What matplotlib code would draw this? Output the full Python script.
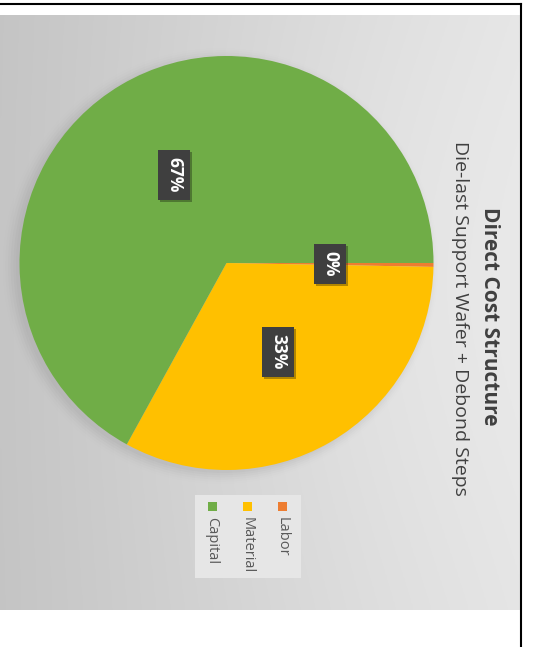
import numpy as np
import matplotlib
matplotlib.use("Agg")
import matplotlib.pyplot as plt
import matplotlib.patheffects as pe
from matplotlib.patches import Rectangle

plt.rcParams['font.family'] = ['Open Sans', 'DejaVu Sans']

categories = ["Labor", "Material", "Capital"]
values = [0.3, 32.7, 67.0]
labels = ["0%", "33%", "67%"]
colors = ["#ED7D31", "#FFC000", "#70AD47"]
title = "Direct Cost Structure"
subtitle = "Die-last Support Wafer + Debond Steps"

W, H = 535, 647
fig = plt.figure(figsize=(W / 100, H / 100), dpi=100)
fig.patch.set_facecolor("white")

# background axes in pixel coordinates
bg = fig.add_axes([0, 0, 1, 1])
bg.set_xlim(0, W)
bg.set_ylim(H, 0)
bg.axis("off")
xx = np.linspace(0, 1, 200)
yy = np.linspace(0, 1, 200)
X, Y = np.meshgrid(xx, yy)
base = 0.77 + 0.12 * X
rad = np.exp(-(((X - 0.75) / 0.5) ** 2 + ((Y - 0.45) / 0.6) ** 2))
grad = np.clip(base + 0.03 * rad, 0, 1)
bg.imshow(np.dstack([grad, grad, grad]), extent=[0, 520, 610, 15], aspect="auto", zorder=0)
bg.plot([0, 521], [3.5, 3.5], color="black", lw=1.5, zorder=2)
bg.plot([521, 521], [3.5, H], color="black", lw=1.5, zorder=2)

# pie shadow
for i, a in enumerate(np.linspace(0.02, 0.005, 6)):
    c = plt.Circle((223 - i * 0.5, 266), 207 + i * 2.2, color="black", alpha=a, zorder=1, lw=0)
    bg.add_patch(c)

cx, cy, r = 226.5, 263, 207
ax = fig.add_axes([(cx - r) / W, 1 - (cy + r) / H, 2 * r / W, 2 * r / H])
ax.pie(values, colors=colors, startangle=0, counterclock=False, radius=1,
       wedgeprops=dict(linewidth=0))
ax.set_xlim(-1, 1)
ax.set_ylim(-1, 1)
ax.set_aspect("auto")
ax.axis("off")

# overlay axes for labels, titles and legend
ov = fig.add_axes([0, 0, 1, 1])
ov.set_xlim(0, W)
ov.set_ylim(H, 0)
ov.axis("off")
ov.patch.set_alpha(0)

label_pos = [(330, 264), (278, 352), (174, 175)]
for lab, (x, y) in zip(labels, label_pos):
    t = ov.text(x, y, lab, rotation=-90, ha="center", va="center", color="white",
                fontsize=12.5, fontweight="bold", zorder=5,
                bbox=dict(boxstyle="square,pad=0.4", fc="#3F3F3F", ec="none"))
    t.get_bbox_patch().set_path_effects(
        [pe.SimplePatchShadow(offset=(1.5, -1.5), shadow_rgbFace="black", alpha=0.3), pe.Normal()])

# titles
ov.text(490, 316, title, rotation=-90, ha="center", va="center", fontsize=15,
        fontweight="bold", color="#404040", zorder=5)
ov.text(460, 318, subtitle, rotation=-90, ha="center", va="center", fontsize=14,
        color="#404040", zorder=5)

# legend
ov.add_patch(Rectangle((195, 495), 106, 83, fc="#E6E6E6", ec="none", zorder=3))
leg_x = [282, 247, 212]
for cat, col, x in zip(categories, colors, leg_x):
    ov.add_patch(Rectangle((x - 4.5, 502), 9, 9, fc=col, ec="none", zorder=4))
    ov.text(x, 517, cat, rotation=-90, ha="center", va="top", fontsize=10.5,
            color="#595959", zorder=5)

fig.savefig("out.png", dpi=100)
